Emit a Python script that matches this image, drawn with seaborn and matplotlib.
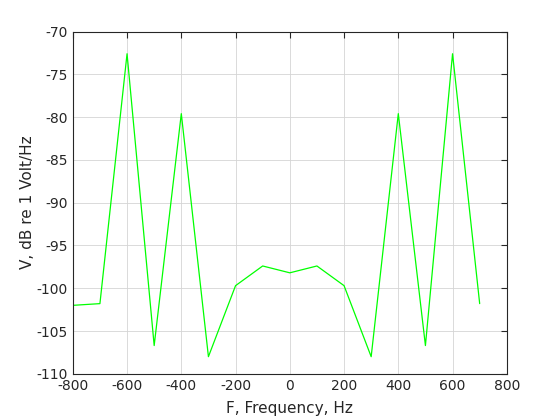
import matplotlib
matplotlib.use("Agg")
import matplotlib.pyplot as plt
import seaborn as sns
import pandas as pd

freq = [-800, -700, -600, -500, -400, -300, -200, -100, 0, 100, 200, 300, 400, 500, 600, 700]
level = [-102.0, -101.8, -72.6, -106.7, -79.6, -108.0, -99.7, -97.4, -98.2,
         -97.4, -99.7, -108.0, -79.6, -106.7, -72.6, -101.8]
xticks = [-800, -600, -400, -200, 0, 200, 400, 600, 800]
yticks = [-110, -105, -100, -95, -90, -85, -80, -75, -70]

sns.set_style("white")
plt.rcParams['font.family'] = ['DejaVu Sans']
plt.rcParams['axes.unicode_minus'] = False

df = pd.DataFrame({"F": freq, "V": level})
fig = plt.figure(figsize=(5.6, 4.2), dpi=100)
ax = fig.add_axes([0.13, 0.11, 0.775, 0.815])
sns.lineplot(data=df, x="F", y="V", ax=ax, color="#00ff00", linewidth=0.9, sort=False)
ax.set_xlim(-800, 800)
ax.set_ylim(-110, -70)
ax.set_xticks(xticks)
ax.set_yticks(yticks)
ax.grid(True, color="#d4d4d4", linewidth=0.6)
ax.tick_params(direction="in", length=4, labelsize=10, colors="#262626", top=True, right=True)
for s in ax.spines.values():
    s.set_color("#262626")
    s.set_linewidth(0.8)
ax.set_xlabel("F, Frequency, Hz", fontsize=11, color="#262626", labelpad=6)
ax.set_ylabel("V, dB re 1 Volt/Hz", fontsize=11, color="#262626", labelpad=1)
fig.savefig("out.png", dpi=100)
